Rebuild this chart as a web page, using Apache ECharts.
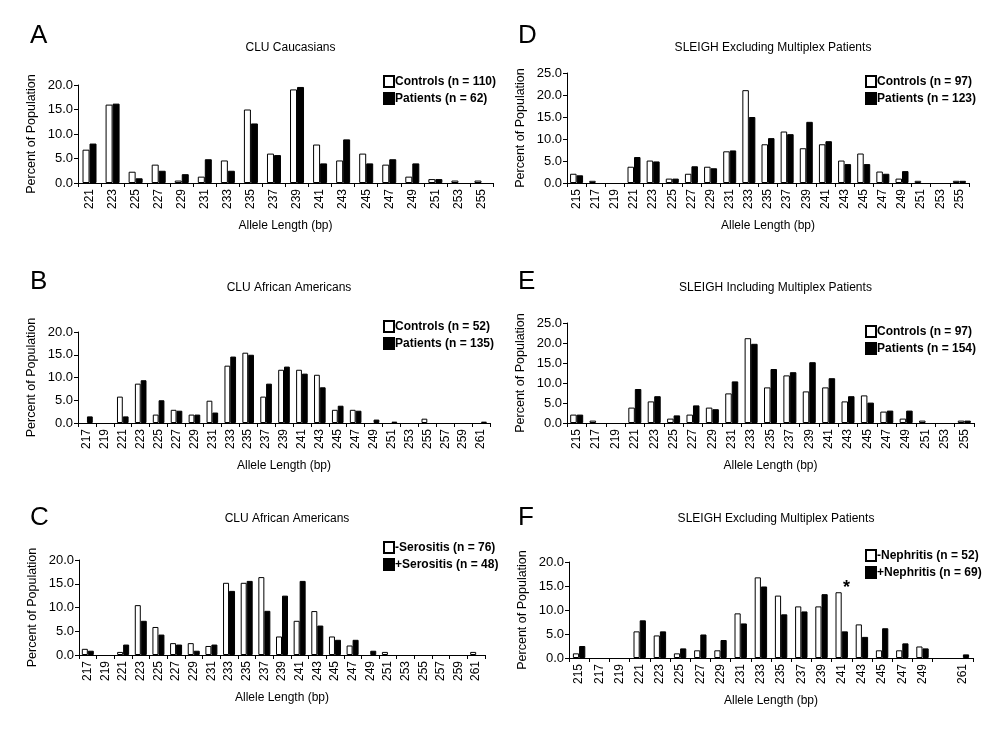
<!DOCTYPE html>
<html><head><meta charset="utf-8">
<script src="https://cdn.jsdelivr.net/npm/echarts@6/dist/echarts.min.js"></script>
<style>html,body{margin:0;padding:0;background:#fff}#c{width:1000px;height:750px}</style>
</head><body><div id="c"></div>
<script>
// Panel A: CLU Caucasians
const catsA = ['221','223','225','227','229','231','233','235','237','239','241','243','245','247','249','251','253','255'];
const ctrlA = [6.8,16.0,2.3,3.75,0.5,1.3,4.6,15.0,6.0,19.1,7.85,4.6,6.0,3.75,1.3,0.8,0.5,0.5];
const patA  = [8.05,16.2,0.96,2.5,1.8,4.85,2.5,12.15,5.7,19.6,4.0,8.9,4.0,4.85,4.0,0.8,0,0];
// Panel B: CLU African Americans
const catsB = ['217','219','221','223','225','227','229','231','233','235','237','239','241','243','245','247','249','251','253','255','257','259','261'];
const ctrlB = [0,0,5.8,8.65,1.85,2.9,1.85,4.9,12.6,15.45,5.8,11.7,11.7,10.6,2.9,2.9,0,0,0,0.95,0,0,0];
const patB  = [1.45,0,1.45,9.4,5.0,2.7,1.85,2.3,14.6,15.0,8.65,12.4,10.85,7.85,3.8,2.7,0.75,0.3,0,0,0,0,0.3];
// Panel C: CLU African Americans, serositis
const catsC = catsB.slice();
const ctrlC = [1.3,0,0.65,10.5,5.9,2.5,2.5,1.9,15.2,15.2,16.4,3.9,7.2,9.25,3.9,2.0,0,0.65,0,0,0,0,0.65];
const patC  = [0.9,0,2.2,7.2,4.3,2.2,0.9,2.2,13.5,15.6,9.3,12.5,15.6,6.2,3.2,3.2,0.9,0,0,0,0,0,0];
// Panel D: SLEIGH excluding multiplex
const catsD = ['215','217','219','221','223','225','227','229','231','233','235','237','239','241','243','245','247','249','251','253','255'];
const ctrlD = [2.1,0.5,0,3.7,5.1,1.0,2.1,3.7,7.2,21.1,8.8,11.7,7.9,8.8,5.1,6.7,2.6,1.0,0.5,0,0.5];
const patD  = [1.75,0,0,5.9,4.9,1.0,3.8,3.35,7.4,15.0,10.2,11.1,13.9,9.5,4.3,4.3,2.1,2.7,0,0,0.5];
// Panel E: SLEIGH including multiplex
const catsE = catsD.slice();
const ctrlE = [2.1,0.6,0,3.85,5.4,1.1,2.1,3.85,7.4,21.2,8.9,11.9,7.9,8.9,5.4,6.9,2.85,1.1,0.6,0,0.6];
const patE  = [2.1,0,0,8.5,6.7,1.9,4.4,3.45,10.4,19.8,13.5,12.7,15.2,11.2,6.7,5.1,3.1,3.1,0,0,0.6];
// Panel F: SLEIGH excluding multiplex, nephritis
const catsF = ['215','217','219','221','223','225','227','229','231','233','235','237','239','241','243','245','247','249','','261'];
const ctrlF = [0.97,0,0,5.55,4.7,0.97,1.6,1.6,9.3,16.8,13.0,10.75,10.75,13.7,7.0,1.6,1.6,2.4,0,0];
const patF  = [2.5,0,0,7.85,5.55,2.0,4.9,3.75,7.2,14.9,9.1,9.7,13.3,5.55,4.4,6.2,3.05,2.0,0,0.75];

const FONT = 'Arial, "Liberation Sans", sans-serif';
const panels = [
  {letter:'A', title:'CLU Caucasians', cats:catsA, c:ctrlA, p:patA, cn:'Controls (n = 110)', pn:'Patients (n = 62)', max:20,
   grid:{left:78,top:85,width:415,height:98}, bw:7, leg:{left:383,top:75}, lx:25, ly:18, tt:37},
  {letter:'B', title:'CLU African Americans', cats:catsB, c:ctrlB, p:patB, cn:'Controls (n = 52)', pn:'Patients (n = 135)', max:20,
   grid:{left:78,top:332,width:412,height:91}, bw:5.8, leg:{left:383,top:320}, lx:25, ly:264, tt:277},
  {letter:'C', title:'CLU African Americans', cats:catsC, c:ctrlC, p:patC, cn:'-Serositis (n = 76)', pn:'+Serositis (n = 48)', max:20,
   grid:{left:79,top:560,width:406,height:95}, bw:6, leg:{left:383,top:541}, lx:25, ly:500, tt:508},
  {letter:'D', title:'SLEIGH Excluding Multiplex Patients', cats:catsD, c:ctrlD, p:patD, cn:'Controls (n = 97)', pn:'Patients (n = 123)', max:25,
   grid:{left:567,top:73,width:402,height:110}, bw:6.5, leg:{left:865,top:75}, lx:513, ly:18, tt:37},
  {letter:'E', title:'SLEIGH Including Multiplex Patients', cats:catsE, c:ctrlE, p:patE, cn:'Controls (n = 97)', pn:'Patients (n = 154)', max:25,
   grid:{left:567,top:323,width:407,height:100}, bw:6.5, leg:{left:865,top:325}, lx:513, ly:264, tt:277},
  {letter:'F', title:'SLEIGH Excluding Multiplex Patients', cats:catsF, c:ctrlF, p:patF, cn:'-Nephritis (n = 52)', pn:'+Nephritis (n = 69)', max:20,
   grid:{left:569,top:562,width:404,height:96}, bw:6.2, leg:{left:865,top:549}, lx:513, ly:500, tt:508}
];

const noZero = arr => arr.map(v => (v === 0 ? '-' : v));

const option = {animation:false, backgroundColor:'#fff', title:[], grid:[], xAxis:[], yAxis:[], series:[], legend:[]};
panels.forEach((pn, i) => {
  const g = pn.grid;
  option.grid.push(Object.assign({containLabel:false}, g));
  option.title.push({text:pn.letter, left:pn.lx, top:pn.ly, textStyle:{fontFamily:FONT, fontSize:26, fontWeight:'normal', color:'#000'}});
  option.title.push({text:pn.title, left:g.left + g.width/2, top:pn.tt, textAlign:'center',
    textStyle:{fontFamily:FONT, fontSize:12, fontWeight:'normal', color:'#000'}});
  const tickCfg = {show:true, length:4, lineStyle:{color:'#000'}};
  if (pn.letter === 'F') tickCfg.interval = (idx, val) => val !== '261';
  option.xAxis.push({type:'category', gridIndex:i, data:pn.cats, name:'Allele Length (bp)', nameLocation:'middle', nameGap:37,
    nameTextStyle:{fontFamily:FONT, fontSize:12, color:'#000'},
    axisLine:{lineStyle:{color:'#000', width:1}}, axisTick:tickCfg,
    axisLabel:{rotate:90, interval:0, fontFamily:FONT, fontSize:12, color:'#000', margin:6}, splitLine:{show:false}});
  option.yAxis.push({type:'value', gridIndex:i, min:0, max:pn.max, interval:5, name:'Percent of Population', nameLocation:'middle', nameGap:40,
    nameTextStyle:{fontFamily:FONT, fontSize:12.5, color:'#000'},
    axisLine:{show:true, lineStyle:{color:'#000', width:1}}, axisTick:{show:true, length:4, lineStyle:{color:'#000'}},
    axisLabel:{fontFamily:FONT, fontSize:13, color:'#000', margin:5, formatter:v => v.toFixed(1)}, splitLine:{show:false}});
  const ctrlSeries = {type:'bar', name:pn.cn, xAxisIndex:i, yAxisIndex:i, data:noZero(pn.c), barWidth:pn.bw, barGap:'0%',
    itemStyle:{color:'#fff', borderColor:'#000', borderWidth:1}};
  const patSeries = {type:'bar', name:pn.pn, xAxisIndex:i, yAxisIndex:i, data:noZero(pn.p), barWidth:pn.bw, barGap:'0%',
    itemStyle:{color:'#000', borderColor:'#000', borderWidth:1}};
  if (pn.letter === 'F') {
    ctrlSeries.markPoint = {symbol:'circle', symbolSize:0, data:[{coord:['241', 14.6]}],
      label:{show:true, formatter:'*', fontFamily:FONT, fontSize:18, fontWeight:'bold', color:'#000', position:'inside', offset:[8,0]}};
  }
  option.series.push(ctrlSeries, patSeries);
  option.legend.push({data:[pn.cn, pn.pn], orient:'vertical', left:pn.leg.left, top:pn.leg.top, itemGap:4, itemWidth:10, itemHeight:11,
    icon:'rect', padding:0, textStyle:{fontFamily:FONT, fontSize:12, fontWeight:'bold', color:'#000', padding:[0,0,0,-4]}});
});

const chart = echarts.init(document.getElementById('c'), null, {renderer:'canvas'});
chart.setOption(option);
</script></body></html>
